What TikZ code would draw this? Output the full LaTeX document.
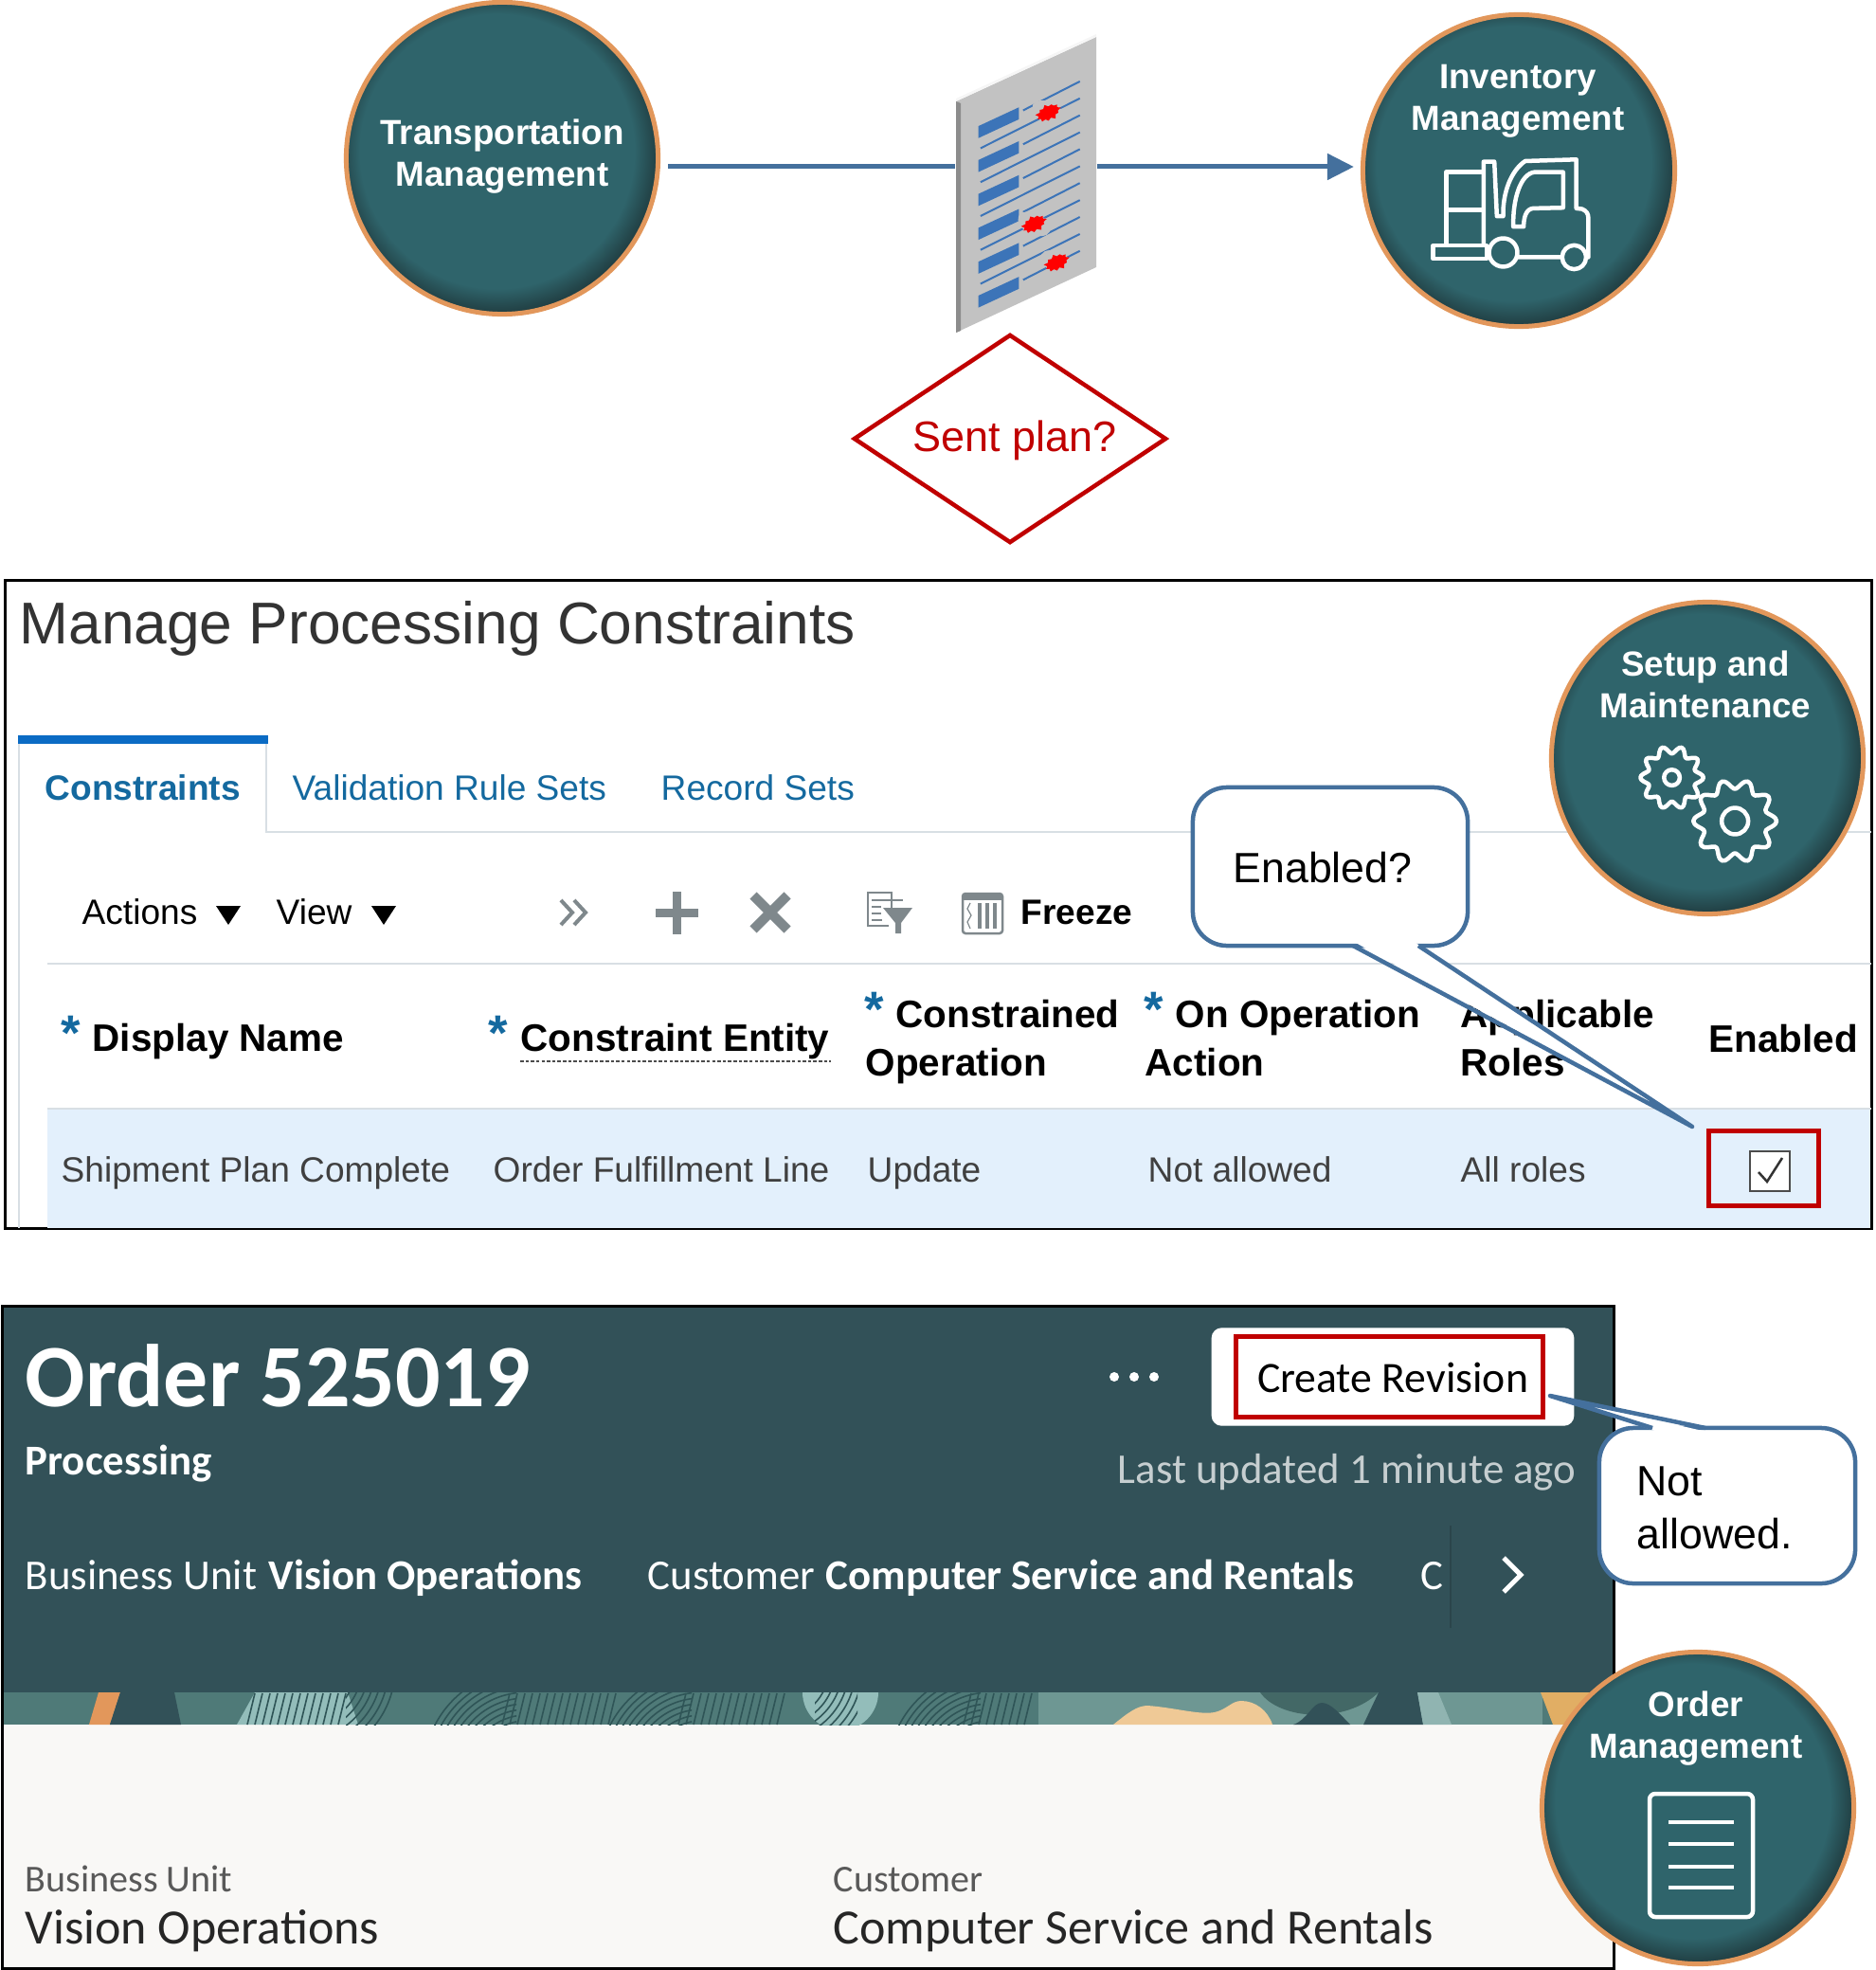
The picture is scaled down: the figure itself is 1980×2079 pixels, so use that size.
\documentclass[tikz,border=0pt]{standalone}
\usepackage{fontspec}
\setmainfont{Liberation Sans}
\newfontfamily\redwood{Carlito}
\usetikzlibrary{shapes.geometric,shapes.symbols,arrows.meta}

\definecolor{flowblue}{HTML}{44709D}
\definecolor{alertred}{HTML}{C00000}
\definecolor{ringorange}{HTML}{E2975B}
\definecolor{discteal}{HTML}{2F646B}
\definecolor{discdark}{HTML}{1C3235}
\definecolor{linkblue}{HTML}{14699F}
\definecolor{tabblue}{HTML}{0B6BC4}
\definecolor{ruleline}{HTML}{D8DFE4}
\definecolor{rowblue}{HTML}{E3F0FC}
\definecolor{toolgray}{HTML}{7F888C}
\definecolor{headerteal}{HTML}{325158}
\definecolor{paperwhite}{HTML}{F9F8F6}
\definecolor{bandbase}{HTML}{4F7A78}
\definecolor{bandpale}{HTML}{6E9793}
\definecolor{bandlight}{HTML}{93BDBA}
\definecolor{bandline}{HTML}{2F5557}
\definecolor{bandsand}{HTML}{EFC996}
\definecolor{bandgold}{HTML}{E1AE64}
\definecolor{pagegray}{HTML}{C2C2C2}
\definecolor{barblue}{HTML}{3C74B8}

\pgfdeclareradialshading{discshade}{\pgfpoint{-1.5bp}{2bp}}{
  color(0bp)=(discteal); color(22bp)=(discteal); color(25bp)=(discdark!60!discteal); color(27.5bp)=(discdark); color(50bp)=(discdark)}

\newcommand{\uisize}{\fontsize{10.55}{12.6}\selectfont}
\newcommand{\headsize}{\fontsize{11.5}{14.4}\selectfont}
\newcommand{\darksize}{\fontsize{12.75}{15}\selectfont}
\newcommand{\gearicon}[4]{% centre, outer mean radius, tooth depth, hole radius
  \begin{scope}[shift={(#1)}]
    \draw[iconline] plot[domain=0:356,samples=90,smooth cycle] (\x:{#2+#3*cos(10*\x)});
    \draw[iconline] (0,0) circle[radius=#4];
  \end{scope}}

\tikzset{
  disc/.style={circle,shading=discshade,draw=ringorange,line width=0.05cm,minimum size=3.29cm,inner sep=0pt},
  disclabel/.style={text=white,align=center,inner sep=0pt,font=\fontsize{10.45}{12.5}\selectfont\bfseries},
  iconline/.style={draw=white,line width=0.045cm,line join=round},
  flowline/.style={draw=flowblue,line width=0.05cm},
  calloutbox/.style={draw=flowblue,fill=white,line width=0.045cm,rounded corners=0.36cm,inner sep=0pt},
  callouttail/.style={draw=flowblue,line width=0.045cm,line join=round},
  callouttext/.style={inner sep=0pt,align=left,font=\fontsize{12.7}{15.9}\selectfont},
  redbox/.style={draw=alertred,line width=0.05cm,inner sep=0pt},
  uilabel/.style={anchor=base west,inner sep=0pt,text=black!75,font=\uisize},
  tablabel/.style={uilabel,text=linkblue},
  headlabel/.style={anchor=base west,inner sep=0pt,text=black,font=\headsize\bfseries},
  reqstar/.style={inner sep=0pt,text=linkblue,font=\fontsize{15}{15}\selectfont\bfseries},
  rulestyle/.style={draw=ruleline,line width=0.02cm},
  toolmark/.style={draw=toolgray,line width=0.09cm},
  toolthin/.style={draw=toolgray,line width=0.025cm},
  darklabel/.style={anchor=base west,inner sep=0pt,text=white,font=\redwood\darksize},
  darkbold/.style={darklabel,font=\redwood\bfseries\darksize},
  lightlabel/.style={anchor=base west,inner sep=0pt,font=\redwood},
  hatch/.style={draw=bandline,line width=0.016cm},
  barline/.style={barblue,line width=0.02cm},
}

\begin{document}
\begin{tikzpicture}[x=0.01cm,y=-0.01cm]
  \useasboundingbox (0,0) rectangle (1980,2079);

  % plan page and the flow through it
  \node[disc] (transdisc) at (530,167) {};
  \node[disc] (invdisc) at (1603,180) {};
  \node[disclabel] (translabel) at (530,165) {Transportation\\Management};
  \node[disclabel] (invlabel) at (1602,107) {Inventory\\Management};
  \node[minimum width=1.48cm,minimum height=1cm,inner sep=0pt] (planpage) at (1083,176) {};

  \fill[pagegray] (1009,107) -- (1157,39) -- (1157,282) -- (1009,351) -- cycle;
  \fill[white!85!pagegray] (1009,104) -- (1157,36) -- (1157,39) -- (1009,107) -- cycle;
  \fill[black!45] (1009,107) -- (1014,109) -- (1014,349) -- (1009,351) -- cycle;
  \begin{scope}[shift={(960,20)},x=0.00333cm,y=-0.00333cm]
    \foreach \rowy in {0,107.5,215,322.5,430,537.5} {
      \fill[barblue] (218,340+\rowy) -- (347,280+\rowy) -- (347,318+\rowy) -- (218,378+\rowy) -- cycle;
      \draw[barline] (360,290+\rowy) -- (540,198+\rowy);
    }
    \foreach \rowy in {0,107.5,215,322.5,430}
      \draw[barline] (225,410+\rowy) -- (540,252+\rowy);
    \foreach \blotx/\bloty/\blotname in {440/297/blota,395/650/blotb,467/772/blotc} {
      \fill[pagegray,rotate around={-27:(\blotx,\bloty)}] (\blotx,\bloty) ellipse[x radius=55,y radius=33];
      \node[starburst,starburst points=11,starburst point height=0.04cm,fill=red,inner sep=0pt,
            minimum width=0.3cm,minimum height=0.2cm,rotate=27] (\blotname) at (\blotx,\bloty) {};
    }
  \end{scope}

  \draw[flowline,shorten <=0.08cm] (transdisc.east |- planpage) -- (planpage.west);
  \draw[flowline,shorten >=0.07cm,-{Triangle[length=0.28cm,width=0.27cm]}] (planpage.east) -- (invdisc.west |- planpage);

  % forklift
  \begin{scope}[shift={(1480,150)},x=0.00333cm,y=-0.00333cm]
    \draw[iconline] (140,322) -- (140,95) -- (255,95) (140,215) -- (255,215);
    \draw[iconline] (258,330) -- (258,62) -- (292,62) -- (300,235) -- (320,235)
      .. controls (318,160) and (345,90) .. (390,60) -- (552,55) -- (552,210) -- (570,212)
      .. controls (585,218) and (590,228) .. (590,240) -- (590,365) -- (580,365);
    \draw[iconline] (352,268) -- (385,268) .. controls (385,240) and (392,212) .. (415,210)
      -- (510,208) -- (510,95) -- (420,95) .. controls (375,100) and (350,180) .. cycle;
    \draw[iconline] (98,328) rectangle (268,370);
    \draw[iconline] (320,350) circle[radius=45] (545,365) circle[radius=38] (368,365) -- (507,365);
  \end{scope}

  \node[diamond,draw=alertred,line width=0.045cm,inner sep=0pt,minimum width=3.3cm,minimum height=2.2cm] (sentcheck) at (1066,463) {};
  \node[anchor=base,inner sep=0pt,text=alertred,font=\fontsize{12.8}{15}\selectfont] (sentlabel) at (1071,476) {Sent plan?};

  % constraints panel
  \node[draw=black,line width=0.03cm,minimum width=19.69cm,minimum height=6.83cm,inner sep=0pt] (constraintpanel) at (990.5,954.5) {};
  \draw[rulestyle] (20,878) -- (20,1296) (281,785) -- (281,878) -- (1975,878) (20,785) -- (20,878);
  \fill[tabblue] (19,776) rectangle (283,785);
  \fill[rowblue] (50,1170) rectangle (1974,1296);
  \draw[rulestyle] (50,1017) -- (1975,1017) (50,1170) -- (1975,1170);

  \node[uilabel,text=black!80,font=\fontsize{17.7}{21}\selectfont] (paneltitle) at (20,679) {Manage Processing Constraints};
  \node[tablabel,font=\uisize\bfseries] (tabconstraints) at (47,844) {Constraints};
  \node[tablabel] (tabrules) at (308,844) {Validation Rule Sets};
  \node[tablabel] (tabrecords) at (697,844) {Record Sets};

  \node[uilabel,text=black] (actionsmenu) at (86,975) {Actions};
  \node[uilabel,text=black] (viewmenu) at (291,975) {View};
  \fill (228,956) -- (254,956) -- (241,976) -- cycle;
  \fill (392,956) -- (418,956) -- (405,976) -- cycle;
  \draw[toolmark,line width=0.04cm] (592,950) -- (604,963) -- (592,976) (606,950) -- (618,963) -- (606,976);
  \draw[toolmark] (714,941) -- (714,986) (692,963.5) -- (737,963.5);
  \draw[toolmark,line width=0.1cm] (795,945) -- (831,981) (831,945) -- (795,981);
  % filter and freeze icons
  \draw[toolthin] (941,958) -- (941,942) -- (916,942) -- (916,977) -- (938,977);
  \draw[toolthin,line width=0.015cm] (920,950) -- (953,950) (920,957) -- (930,957) (920,964) -- (930,964) (920,971) -- (931,971);
  \fill[toolgray] (932,958) -- (963,958) -- (951,974) -- (951,985) -- (945,985) -- (945,974) -- cycle;
  \draw[toolthin,rounded corners=0.03cm] (1016,943) rectangle (1058,985);
  \fill[toolgray] (1016,943) rectangle (1058,950);
  \foreach \barx in {1032,1040,1048} \fill[toolgray] (\barx,953) rectangle (\barx+4,980);
  \draw[toolthin,line width=0.012cm] (1024,953) -- (1021,959) -- (1025,966) -- (1021,973) -- (1024,980);
  \node[headlabel,font=\uisize\bfseries] (freezebutton) at (1077,975) {Freeze};

  \node[reqstar] (stardisplay) at (75,1090) {*};
  \node[headlabel] (headdisplay) at (97,1109) {Display Name};
  \node[reqstar] (starentity) at (526,1090) {*};
  \node[headlabel] (headentity) at (549,1109) {Constraint Entity};
  \draw[black!70,line width=0.02cm,dash pattern=on 1pt off 0.6pt] (549,1120) -- (877,1120);
  \node[reqstar] (staroperation) at (923,1065) {*};
  \node[headlabel] (headconstrained) at (945,1084) {Constrained};
  \node[headlabel] (headoperation) at (913,1135) {Operation};
  \node[reqstar] (staraction) at (1218,1065) {*};
  \node[headlabel] (headonop) at (1240,1084) {On Operation};
  \node[headlabel] (headaction) at (1208,1135) {Action};
  \node[headlabel] (headapplicable) at (1541,1084) {Applicable};
  \node[headlabel] (headroles) at (1541,1135) {Roles};
  \node[headlabel] (headenabled) at (1803,1110) {Enabled};

  \node[uilabel] (celldisplay) at (64,1247) {Shipment Plan Complete};
  \node[uilabel] (cellentity) at (520,1247) {Order Fulfillment Line};
  \node[uilabel] (celloperation) at (915,1247) {Update};
  \node[uilabel] (cellaction) at (1211,1247) {Not allowed};
  \node[uilabel] (cellroles) at (1541,1247) {All roles};
  \node[redbox,minimum width=1.15cm,minimum height=0.78cm] (enabledbox) at (1861.5,1233) {};
  \node[draw=black!70,fill=white,line width=0.025cm,minimum size=0.42cm,inner sep=0pt] (enabledcheck) at (1868,1236) {};
  \draw[black!80,line width=0.025cm] (1856,1237) -- (1865,1247) -- (1881,1222);

  \node[calloutbox,minimum width=2.9cm,minimum height=1.67cm] (enabledcallout) at (1404,914.5) {};
  \coordinate (enabledtip) at (1786,1189);
  \fill[white] (1431,995) -- (1494,995) -- (enabledtip) -- cycle;
  \draw[callouttail] (1428,998) -- (enabledtip) -- (1497,998);
  \node[callouttext] (enabledquestion) at (1396,916) {Enabled?};

  \node[disc] (setupdisc) at (1802,800) {};
  \node[disclabel] (setuplabel) at (1800,722) {Setup and\\Maintenance};
  \begin{scope}[shift={(1699,770)},x=0.00333cm,y=-0.00333cm]
    \gearicon{197,152}{88}{12}{25}
    \gearicon{397,290}{117}{15}{42}
  \end{scope}

  % order panel
  \fill[headerteal] (2,1378) rectangle (1704,1786);
  \fill[paperwhite] (2,1820) rectangle (1704,2077);
  \begin{scope}
    \clip (3,1786) rectangle (1704,1820);
    \fill[bandbase] (3,1786) rectangle (1704,1820);
    \fill[bandpale] (1096,1786) rectangle (1628,1820);
    \fill[bandlight] (269,1786) -- (367,1786) -- (378,1820) -- (250,1820) -- cycle;
    \fill[bandlight] (887,1786) circle[radius=40];
    \foreach \cx in {555,740,1045} {
      \begin{scope}
        \clip (\cx-110,1786) rectangle (\cx-10,1820);
        \foreach \r in {54,60,...,110}
          \draw[hatch] (\cx,1870) circle[radius=\r];
      \end{scope}
    }
    \foreach \cx/\clipa/\clipb in {320/365/430,820/860/905} {
      \begin{scope}
        \clip (\clipa,1786) rectangle (\clipb,1820);
        \foreach \r in {55,62,...,100}
          \draw[hatch] (\cx,1760) circle[radius=\r];
      \end{scope}
    }
    \foreach \hx in {269,277,...,367,538,546,...,653,724,732,...,834,1025,1033,...,1096}
      \draw[hatch] (\hx,1787) -- ++(-8,33);
    \fill[ringorange] (104,1786) -- (127,1786) -- (116,1820) -- (94,1820) -- cycle;
    \fill[headerteal] (127,1786) -- (184,1786) -- (191,1820) -- (116,1820) -- cycle;
    \fill[bandbase!85!black] (1330,1786) .. controls (1350,1815) and (1420,1820) .. (1455,1786) -- cycle;
    \fill[headerteal] (1365,1820) .. controls (1380,1815) and (1385,1797) .. (1395,1797) .. controls (1405,1797) and (1415,1810) .. (1425,1820) -- cycle;
    \fill[headerteal] (1455,1786) -- (1496,1786) -- (1502,1820) -- (1439,1820) -- cycle;
    \fill[bandlight!85!gray] (1496,1786) -- (1518,1786) -- (1532,1820) -- (1502,1820) -- cycle;
    \fill[bandgold] (1626,1786) -- (1704,1786) -- (1704,1820) -- (1639,1820) -- cycle;
    \fill[bandsand] (1175,1820) .. controls (1190,1808) and (1200,1800) .. (1211,1800)
      .. controls (1240,1802) and (1265,1810) .. (1282,1807) .. controls (1295,1804) and (1300,1795) .. (1310,1795)
      .. controls (1325,1795) and (1338,1805) .. (1343,1820) -- cycle;
  \end{scope}
  \node[draw=black,line width=0.03cm,minimum width=17.0cm,minimum height=6.98cm,inner sep=0pt] (orderpanel) at (853,1728) {};

  \node[darkbold,font=\redwood\bfseries\fontsize{26.7}{30}\selectfont] (ordertitle) at (26,1484) {Order 525019};
  \node[darkbold] (orderstatus) at (26,1556) {Processing};
  \node[darklabel] (unitkey) at (26,1677) {Business Unit};
  \node[darkbold] (unitvalue) at (283,1677) {Vision Operations};
  \node[darklabel] (customerkey) at (683,1677) {Customer};
  \node[darkbold] (customervalue) at (871,1677) {Computer Service and Rentals};
  \node[darklabel] (clippedkey) at (1499,1677) {C};
  \draw[headerteal!85!black,line width=0.02cm] (1531,1610) -- (1531,1718);
  \draw[white,line width=0.05cm] (1587,1644) -- (1605,1662) -- (1587,1680);
  \foreach \dotx in {1176,1197,1218} \fill[white] (\dotx,1453) circle[radius=5];
  \node[draw=white,fill=white,rounded corners=0.1cm,minimum width=3.81cm,minimum height=1.02cm,inner sep=0pt] (revisionbutton) at (1470,1453) {};
  \node[redbox,minimum width=3.23cm,minimum height=0.84cm] (revisionbox) at (1466.5,1453) {};
  \node[lightlabel,anchor=base,font=\redwood\fontsize{13}{15}\selectfont] (revisionlabel) at (1470,1469) {Create Revision};
  \node[darklabel,text=white!72!headerteal] (lastupdated) at (1179,1565) {Last updated 1 minute ago};

  \node[lightlabel,text=black!65,font=\redwood\fontsize{11.4}{13}\selectfont] (unitcaption) at (26,1996) {Business Unit};
  \node[lightlabel,text=black!85,font=\redwood\fontsize{14.8}{17}\selectfont] (unitdetail) at (26,2051) {Vision Operations};
  \node[lightlabel,text=black!65,font=\redwood\fontsize{11.4}{13}\selectfont] (customercaption) at (879,1996) {Customer};
  \node[lightlabel,text=black!85,font=\redwood\fontsize{14.8}{17}\selectfont] (customerdetail) at (879,2051) {Computer Service and Rentals};

  \node[calloutbox,minimum width=2.7cm,minimum height=1.64cm] (notallowedcallout) at (1823,1589) {};
  \coordinate (notallowedtip) at (1636,1473);
  \fill[white] (1747,1510) -- (1797,1510) -- (notallowedtip) -- cycle;
  \draw[callouttail] (1744,1507) -- (notallowedtip) -- (1800,1507);
  \node[callouttext,anchor=north west] (notallowed) at (1727,1547) {Not\\allowed.};

  \node[disc] (orderdisc) at (1792,1908) {};
  \node[disclabel] (orderlabel) at (1790,1824) {Order\\Management};
  \draw[iconline,rounded corners=0.06cm] (1741,1893) rectangle (1850,2023);
  \foreach \liney in {1923,1946,1970,1992} \draw[iconline] (1761,\liney) -- (1830,\liney);
\end{tikzpicture}
\end{document}
